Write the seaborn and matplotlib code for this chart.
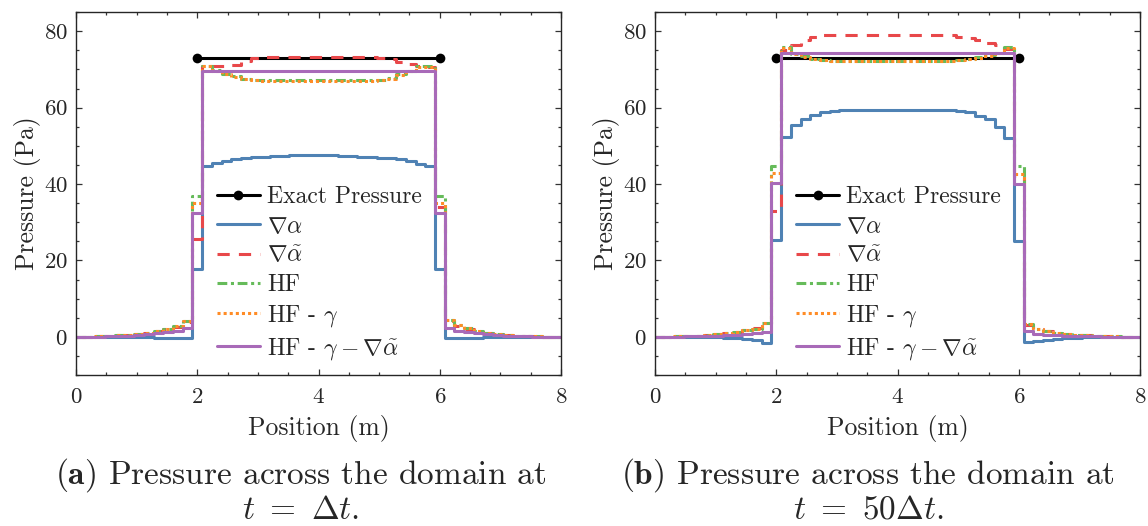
import numpy as np
import seaborn as sns
import matplotlib.pyplot as plt
from matplotlib.ticker import MultipleLocator

# cell edges of the 1D grid (50 cells over 8 m)
edges = np.linspace(0, 8, 51)

exact_x = [2, 6]
exact_y = [73, 73]

# (a) t = dt
blue_a = [0, 0, 0, 0, 0, 0, 0, -0.1, -0.2, -0.3, -0.3, -0.3,
          17.8,
          44.6, 45.5, 46.0, 46.5, 46.8, 47.0, 47.2, 47.3, 47.4, 47.5, 47.5, 47.5,
          47.5, 47.5, 47.4, 47.3, 47.2, 47.0, 46.9, 46.8, 46.5, 46.0, 45.3, 44.6,
          17.8,
          -0.3, -0.3, -0.2, -0.2, -0.1, -0.1, 0, 0, 0, 0, 0, 0]
red_a = [0, 0.05, 0.1, 0.2, 0.4, 0.6, 0.8, 1.1, 1.5, 2.0, 2.7, 4.0,
         25.5,
         71.0, 71.0, 71.0, 71.2, 72.3, 73.0, 73.2, 73.2, 73.2, 73.2, 73.2, 73.2,
         73.2, 73.2, 73.2, 73.2, 73.2, 73.2, 73.0, 72.6, 72.0, 71.3, 70.8, 70.5,
         34.0,
         4.2, 2.9, 2.1, 1.5, 1.0, 0.7, 0.5, 0.3, 0.2, 0.1, 0.05, 0]
green_a = [0, 0.05, 0.1, 0.2, 0.4, 0.6, 0.8, 1.1, 1.5, 2.1, 2.8, 4.2,
           36.8,
           71.0, 69.8, 68.9, 68.2, 67.6, 67.3, 67.1, 67.1, 67.1, 67.1, 67.1, 67.1,
           67.1, 67.1, 67.1, 67.1, 67.1, 67.1, 67.3, 67.7, 68.7, 69.7, 70.8, 70.8,
           36.8,
           4.4, 3.0, 2.2, 1.6, 1.1, 0.8, 0.5, 0.3, 0.2, 0.1, 0.05, 0]
orange_a = [0, 0.05, 0.1, 0.2, 0.4, 0.6, 0.8, 1.1, 1.5, 2.1, 2.8, 4.1,
            35.1,
            70.8, 69.7, 68.8, 68.1, 67.5, 67.2, 67.0, 67.0, 67.0, 67.0, 67.0, 67.0,
            67.0, 67.0, 67.0, 67.0, 67.0, 67.0, 67.2, 67.6, 68.6, 69.6, 70.7, 70.7,
            35.0,
            4.3, 3.0, 2.2, 1.6, 1.1, 0.8, 0.5, 0.3, 0.2, 0.1, 0.05, 0]
purple_a = [0, 0, 0.05, 0.1, 0.2, 0.3, 0.5, 0.7, 0.9, 1.2, 1.5, 2.3,
            32.4,
            69.5, 69.5, 69.5, 69.5, 69.5, 69.5, 69.5, 69.5, 69.5, 69.5, 69.5, 69.5,
            69.5, 69.5, 69.5, 69.5, 69.5, 69.5, 69.5, 69.5, 69.5, 69.5, 69.5, 69.5,
            32.4,
            2.3, 1.5, 1.2, 0.9, 0.7, 0.5, 0.3, 0.2, 0.1, 0.05, 0, 0]

# (b) t = 50 dt
blue_b = [0, 0, 0, 0, 0, 0, -0.1, -0.2, -0.4, -0.6, -0.8, -1.5,
          25.3,
          52.3, 55.5, 56.9, 58.1, 58.8, 59.1, 59.4, 59.4, 59.4, 59.4, 59.4, 59.4,
          59.4, 59.4, 59.4, 59.4, 59.4, 59.4, 59.2, 58.8, 57.9, 56.9, 54.9, 52.0,
          25.0,
          -1.3, -1.0, -0.7, -0.5, -0.3, -0.2, -0.1, 0, 0, 0, 0, 0]
red_b = [0, 0.05, 0.1, 0.2, 0.3, 0.5, 0.7, 1.0, 1.3, 1.7, 2.2, 3.3,
         33.0,
         75.0, 76.3, 77.8, 78.5, 78.9, 79.1, 79.1, 79.1, 79.1, 79.1, 79.1, 79.1,
         79.1, 79.1, 79.1, 79.1, 79.1, 78.9, 78.6, 78.2, 77.6, 76.8, 76.3, 75.3,
         42.0,
         3.2, 2.0, 1.5, 1.1, 0.8, 0.6, 0.4, 0.3, 0.2, 0.1, 0.05, 0]
green_b = [0, 0.05, 0.1, 0.2, 0.3, 0.5, 0.7, 1.0, 1.3, 1.7, 2.1, 3.6,
           44.7,
           75.8, 74.1, 73.4, 72.8, 72.5, 72.3, 72.2, 72.2, 72.2, 72.2, 72.2, 72.2,
           72.2, 72.2, 72.2, 72.2, 72.2, 72.2, 72.5, 72.8, 73.2, 73.7, 74.4, 75.8,
           44.7,
           3.4, 2.0, 1.5, 1.1, 0.8, 0.6, 0.4, 0.3, 0.2, 0.1, 0.05, 0]
orange_b = [0, 0.05, 0.1, 0.2, 0.3, 0.5, 0.7, 1.0, 1.3, 1.7, 2.1, 3.5,
            42.8,
            75.6, 74.0, 73.3, 72.7, 72.4, 72.2, 72.1, 72.1, 72.1, 72.1, 72.1, 72.1,
            72.1, 72.1, 72.1, 72.1, 72.1, 72.1, 72.4, 72.7, 73.1, 73.6, 74.3, 75.6,
            42.5,
            3.3, 2.0, 1.5, 1.1, 0.8, 0.6, 0.4, 0.3, 0.2, 0.1, 0.05, 0]
purple_b = [0, 0, 0.05, 0.1, 0.1, 0.2, 0.3, 0.4, 0.5, 0.7, 0.9, 1.3,
            40.3,
            74.3, 74.3, 74.3, 74.3, 74.3, 74.3, 74.3, 74.3, 74.3, 74.3, 74.3, 74.3,
            74.3, 74.3, 74.3, 74.3, 74.3, 74.3, 74.3, 74.3, 74.3, 74.3, 74.3, 74.3,
            40.1,
            1.4, 0.8, 0.6, 0.4, 0.3, 0.2, 0.1, 0.1, 0.05, 0, 0, 0]

labels = [r"$\nabla\alpha$", r"$\nabla\tilde{\alpha}$", "HF",
          r"HF - $\gamma$", r"HF - $\gamma - \nabla\tilde{\alpha}$"]
colors = ["#4f82b4", "#e8484a", "#66bb5a", "#ff8c26", "#a86ab8"]
styles = ["-", (0, (4, 3)), (0, (3.2, 1.2, 1, 1.2)), (0, (1, 1)), "-"]

sns.set_style("ticks")
plt.rcParams["font.family"] = "serif"
plt.rcParams["font.serif"] = ["cmr10"]
plt.rcParams["mathtext.fontset"] = "cm"
plt.rcParams["axes.formatter.use_mathtext"] = True
plt.rcParams["axes.unicode_minus"] = False

fig = plt.figure(figsize=(11.48, 5.26), dpi=100)
ax1 = fig.add_axes([0.0662, 0.287, 0.4225, 0.690])
ax2 = fig.add_axes([0.5706, 0.287, 0.4225, 0.690])


def draw_panel(ax, series):
    sns.lineplot(x=exact_x, y=exact_y, ax=ax, color="black", lw=2.2,
                 marker="o", markersize=7, markeredgewidth=0,
                 label="Exact Pressure")
    for vals, lab, col, ls in zip(series, labels, colors, styles):
        y = list(vals) + [vals[-1]]
        sns.lineplot(x=edges, y=y, ax=ax, color=col, lw=2.2, linestyle=ls,
                     drawstyle="steps-post", label=lab)
    ax.set_xlim(0, 8)
    ax.set_ylim(-10, 85)
    ax.xaxis.set_major_locator(MultipleLocator(2))
    ax.xaxis.set_minor_locator(MultipleLocator(0.5))
    ax.yaxis.set_major_locator(MultipleLocator(20))
    ax.yaxis.set_minor_locator(MultipleLocator(5))
    ax.tick_params(which="both", direction="in", top=True, right=True,
                   labelsize=16.5, width=0.9, color="#333333")
    ax.tick_params(which="major", length=4)
    ax.tick_params(which="minor", length=2.5)
    ax.tick_params(axis="x", pad=9)
    ax.tick_params(axis="y", pad=6)
    for sp in ax.spines.values():
        sp.set_linewidth(1.0)
    ax.set_xlabel("Position (m)", fontsize=18.5, labelpad=6)
    ax.set_ylabel("Pressure (Pa)", fontsize=18.5, labelpad=2)
    ax.legend(frameon=False, loc="upper left", bbox_to_anchor=(0.29, 0.52),
              fontsize=17, handlelength=1.85, handletextpad=0.3,
              labelspacing=0.3, borderpad=0, borderaxespad=0)


draw_panel(ax1, [blue_a, red_a, green_a, orange_a, purple_a])
draw_panel(ax2, [blue_b, red_b, green_b, orange_b, purple_b])

fig.text(301 / 1148, 1 - 475 / 526, r"$\mathbf{(a)}$ Pressure across the domain at",
         ha="center", va="center", fontsize=24)
fig.text(301 / 1148, 1 - 510 / 526, r"$t\ =\ \Delta t$.", ha="center", va="center",
         fontsize=24)
fig.text(868 / 1148, 1 - 475 / 526, r"$\mathbf{(b)}$ Pressure across the domain at",
         ha="center", va="center", fontsize=24)
fig.text(868 / 1148, 1 - 510 / 526, r"$t\ =\ 50\Delta t$.", ha="center", va="center",
         fontsize=24)

fig.savefig("out.png", dpi=100)
